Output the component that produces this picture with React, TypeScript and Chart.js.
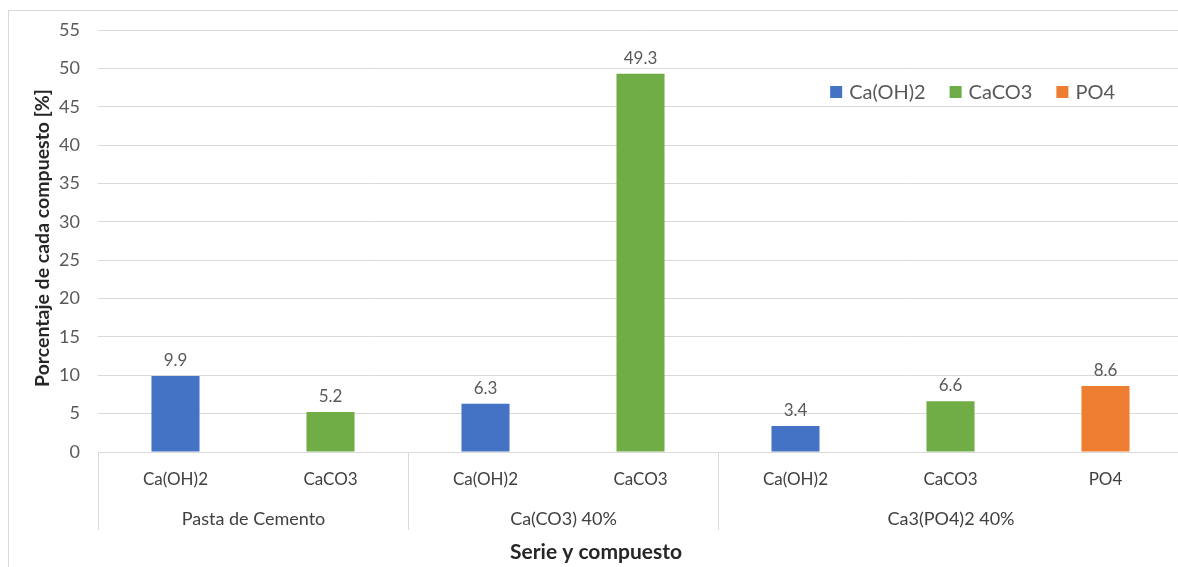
import React, { useEffect, useRef } from "react";
import { Chart, registerables } from "chart.js";

Chart.register(...registerables);

const categories = ["Ca(OH)2", "CaCO3", "Ca(OH)2", "CaCO3", "Ca(OH)2", "CaCO3", "PO4"];
const groupLabels = ["Pasta de Cemento", "Ca(CO3) 40%", "Ca3(PO4)2 40%"];
const groupSizes = [2, 2, 3];
const caOH2Values = [9.9, null, 6.3, null, 3.4, null, null];
const caCO3Values = [null, 5.2, null, 49.3, null, 6.6, null];
const po4Values = [null, null, null, null, null, null, 8.6];
const seriesNames = ["Ca(OH)2", "CaCO3", "PO4"];
const seriesColors = ["#4472C4", "#70AD47", "#ED7D31"];
const yTicks = [0, 5, 10, 15, 20, 25, 30, 35, 40, 45, 50, 55];

const FONT = "Lato, 'Noto Sans', sans-serif";
const GRID = "#d9d9d9";
const TEXT = "#595959";

const overlayPlugin = {
  id: "overlay",
  beforeDraw(chart: any) {
    const ctx = chart.ctx;
    ctx.save();
    ctx.strokeStyle = GRID;
    ctx.lineWidth = 1;
    ctx.strokeRect(8.5, 10.5, 1177, 700);
    ctx.restore();
  },
  afterDraw(chart: any) {
    const ctx = chart.ctx;
    const x = chart.scales.x;
    const area = chart.chartArea;
    const step = x.getPixelForTick(1) - x.getPixelForTick(0);
    ctx.save();
    // group separators and group labels
    let idx = 0;
    const bounds: number[] = [Math.round(x.getPixelForTick(0) - step / 2) + 0.5];
    groupSizes.forEach((n) => {
      idx += n;
      bounds.push(Math.round(x.getPixelForTick(idx - 1) + step / 2) + 0.5);
    });
    ctx.strokeStyle = GRID;
    ctx.lineWidth = 1;
    bounds.forEach((b) => {
      ctx.beginPath();
      ctx.moveTo(b, area.bottom);
      ctx.lineTo(b, area.bottom + 78);
      ctx.stroke();
    });
    ctx.fillStyle = "#404040";
    ctx.font = `18px ${FONT}`;
    ctx.textAlign = "center";
    ctx.textBaseline = "middle";
    groupLabels.forEach((g, i) => {
      ctx.fillText(g, (bounds[i] + bounds[i + 1]) / 2, area.bottom + 67);
    });
    // axis titles
    ctx.fillStyle = "#262626";
    ctx.font = `bold 21px ${FONT}`;
    ctx.fillText("Serie y compuesto", 596, 552);
    ctx.save();
    ctx.font = `bold 19.5px ${FONT}`;
    ctx.translate(43, 238);
    ctx.rotate(-Math.PI / 2);
    ctx.fillText("Porcentaje de cada compuesto [%]", 0, 0);
    ctx.restore();
    // legend
    ctx.font = `20px ${FONT}`;
    const box = 12;
    const gapBox = 7;
    const gapItem = 24;
    let total = 0;
    seriesNames.forEach((s, i) => {
      total += box + gapBox + ctx.measureText(s).width + (i < seriesNames.length - 1 ? gapItem : 0);
    });
    let lx = area.right - 68 - total;
    const ly = 92;
    ctx.textAlign = "left";
    seriesNames.forEach((s, i) => {
      ctx.fillStyle = seriesColors[i];
      ctx.fillRect(lx, ly - box / 2, box, box);
      lx += box + gapBox;
      ctx.fillStyle = TEXT;
      ctx.fillText(s, lx, ly + 1);
      lx += ctx.measureText(s).width + gapItem;
    });
    // data labels
    ctx.font = `17px ${FONT}`;
    ctx.fillStyle = TEXT;
    ctx.textAlign = "center";
    ctx.textBaseline = "alphabetic";
    chart.data.datasets.forEach((ds: any, di: number) => {
      const meta = chart.getDatasetMeta(di);
      meta.data.forEach((el: any, i: number) => {
        const v = ds.data[i];
        if (v === null || v === undefined) return;
        ctx.fillText(v.toFixed(1), el.x, el.y - 10);
      });
    });
    ctx.restore();
  },
};

export default function App() {
  const ref = useRef<HTMLCanvasElement>(null);
  useEffect(() => {
    document.body.style.margin = "0";
    const chart = new Chart(ref.current as HTMLCanvasElement, {
      type: "bar",
      data: {
        labels: categories,
        datasets: [
          { label: seriesNames[0], data: caOH2Values, backgroundColor: seriesColors[0] },
          { label: seriesNames[1], data: caCO3Values, backgroundColor: seriesColors[1] },
          { label: seriesNames[2], data: po4Values, backgroundColor: seriesColors[2] },
        ] as any,
      },
      options: {
        responsive: false,
        animation: false,
        devicePixelRatio: 1,
        layout: { padding: { top: 30, right: 17, bottom: 0, left: 0 } },
        datasets: { bar: { grouped: false, barPercentage: 0.31, categoryPercentage: 1 } } as any,
        plugins: { legend: { display: false }, tooltip: { enabled: false } },
        scales: {
          x: {
            grid: { display: true, drawOnChartArea: false, drawTicks: false },
            border: { display: true, color: GRID },
            ticks: { color: "#404040", font: { family: FONT, size: 17 }, padding: 17, maxRotation: 0, autoSkip: false },
            afterFit: (s: any) => {
              s.height = 115;
            },
          },
          y: {
            min: 0,
            max: 55,
            afterBuildTicks: (s: any) => {
              s.ticks = yTicks.map((v) => ({ value: v }));
            },
            grid: { color: GRID, drawTicks: false },
            border: { display: false },
            ticks: { color: TEXT, font: { family: FONT, size: 18 }, padding: 18 },
            afterFit: (s: any) => {
              s.width = 98;
            },
          },
        },
      },
      plugins: [overlayPlugin],
    });
    return () => chart.destroy();
  }, []);
  return (
    <div style={{ position: "fixed", left: 0, top: 0, width: 1178, height: 567, overflow: "hidden", background: "#fff" }}>
      <canvas ref={ref} width={1200} height={567} style={{ width: 1200, height: 567, display: "block" }} />
    </div>
  );
}
